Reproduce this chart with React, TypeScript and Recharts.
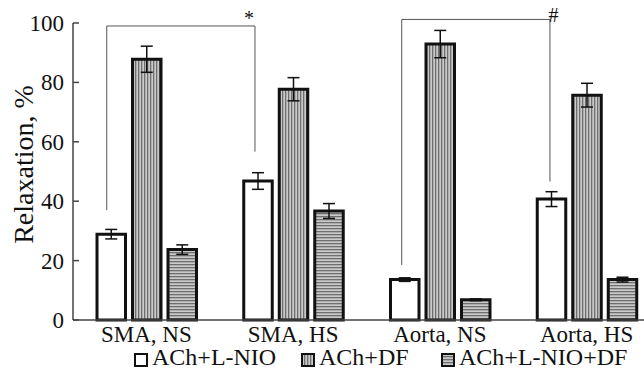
import {
  BarChart,
  Bar,
  XAxis,
  YAxis,
  ErrorBar,
  ReferenceLine,
  ReferenceDot,
  Legend,
  Label,
} from 'recharts';

const categories = ['SMA, NS', 'SMA, HS', 'Aorta, NS', 'Aorta, HS'];
const seriesNames = ['ACh+L-NIO', 'ACh+DF', 'ACh+L-NIO+DF'];

const achLnio = [28.9, 46.8, 13.6, 40.7];
const achLnioErr = [1.6, 2.8, 0.6, 2.5];
const achDf = [87.8, 77.7, 92.9, 75.7];
const achDfErr = [4.4, 3.9, 4.6, 4.0];
const achLnioDf = [23.7, 36.7, 6.8, 13.6];
const achLnioDfErr = [1.6, 2.5, 0.3, 0.8];

const yTicks = [0, 20, 40, 60, 80, 100];

// significance brackets; x is in group units (0..4) on a hidden numeric axis
const bracketX1 = [0.23, 2.24];
const bracketX2 = [1.24, 3.25];
const bracketTop = [99, 101.2];
const bracketLeftEnd = [37, 18.5];
const bracketRightEnd = [56.7, 46.6];
const bracketMark = ['*', '#'];
const markX = [1.2, 3.275];
const markY = [101.6, 102.6];

const data = categories.map((name, i) => ({
  name,
  pos: i + 0.5,
  lnio: achLnio[i],
  lnioErr: achLnioErr[i],
  df: achDf[i],
  dfErr: achDfErr[i],
  lnioDf: achLnioDf[i],
  lnioDfErr: achLnioDfErr[i],
}));

const FONT = '"Liberation Serif", "Times New Roman", serif';
const INK = '#111';
const fills = ['#ffffff', 'url(#vstripe)', 'url(#hstripe)'];
const legendLeft = [134, 301, 441];

const YTick = (props: any) => {
  const { x, y, payload } = props;
  const ax = x + 9;
  return (
    <g>
      <line x1={ax} y1={y} x2={ax + 6} y2={y} stroke="#444" strokeWidth={1.5} />
      <text x={x} y={y} dy="0.35em" textAnchor="end" fontFamily={FONT} fontSize={23} fill={INK}>
        {payload.value}
      </text>
    </g>
  );
};

const YLabel = (props: any) => {
  const { viewBox } = props;
  const cx = viewBox.x + 23;
  const cy = viewBox.y + viewBox.height / 2 - 7;
  return (
    <text
      x={cx}
      y={cy}
      transform={`rotate(-90 ${cx} ${cy})`}
      textAnchor="middle"
      dominantBaseline="central"
      fontFamily={FONT}
      fontSize={28}
      fill={INK}
    >
      Relaxation, %
    </text>
  );
};

const renderLegend = () => (
  <div
    style={{
      position: 'relative',
      height: 22,
      fontFamily: FONT,
      fontSize: 24,
      lineHeight: '20px',
      color: INK,
    }}
  >
    {seriesNames.map((s, i) => (
      <div
        key={s}
        style={{ position: 'absolute', left: legendLeft[i], top: 0, height: 20, display: 'flex', alignItems: 'center', whiteSpace: 'nowrap' }}
      >
        <svg width={14} height={14} style={{ position: 'relative', top: 3 }}>
          <rect x={1} y={1} width={12} height={12} fill={fills[i]} stroke={INK} strokeWidth={2} />
        </svg>
        <span style={{ marginLeft: 4 }}>{s}</span>
      </div>
    ))}
  </div>
);

export default function App() {
  return (
    <div style={{ position: 'absolute', left: 0, top: 0, width: 644, height: 369, overflow: 'hidden', background: '#fff' }}>
      <BarChart
        width={660}
        height={369}
        data={data}
        margin={{ top: 23, right: 0, bottom: 0, left: 0 }}
        barSize={28.5}
        barGap={7}
      >
        <defs>
          <pattern id="vstripe" width={3} height={3} patternUnits="userSpaceOnUse">
            <rect width={3} height={3} fill="#cacaca" />
            <rect x={0} width={1.3} height={3} fill="#6e6e6e" />
          </pattern>
          <pattern id="hstripe" width={3} height={3} patternUnits="userSpaceOnUse">
            <rect width={3} height={3} fill="#cacaca" />
            <rect y={0} width={3} height={1.3} fill="#6e6e6e" />
          </pattern>
        </defs>
        <XAxis
          dataKey="name"
          height={27}
          axisLine={{ stroke: '#444', strokeWidth: 1.5 }}
          tickLine={false}
          tickSize={0}
          tickMargin={6}
          tick={{ fontFamily: FONT, fontSize: 23, fill: INK }}
          interval={0}
        />
        <XAxis xAxisId="ann" dataKey="pos" type="number" domain={[0, 4]} allowDataOverflow hide />
        <YAxis
          width={73}
          domain={[0, 100]}
          ticks={yTicks}
          interval={0}
          tickSize={0}
          tickMargin={9}
          tickLine={false}
          axisLine={{ stroke: '#444', strokeWidth: 1.5 }}
          tick={<YTick />}
        >
          <Label content={<YLabel />} />
        </YAxis>
        <Legend verticalAlign="bottom" align="left" content={renderLegend} wrapperStyle={{ left: 0, width: 644 }} />
        {['lnio', 'df', 'lnioDf'].map((key, i) => (
          <Bar
            key={key}
            dataKey={key}
            name={seriesNames[i]}
            fill={fills[i]}
            stroke={INK}
            strokeWidth={3}
            isAnimationActive={false}
          >
            <ErrorBar dataKey={`${key}Err`} width={6} stroke={INK} strokeWidth={1.5} direction="y" isAnimationActive={false} />
          </Bar>
        ))}
        {bracketX1.map((x1, i) => [
          <ReferenceLine
            key={`h${i}`}
            xAxisId="ann"
            ifOverflow="visible"
            stroke="#555"
            strokeWidth={1}
            segment={[{ x: x1, y: bracketTop[i] }, { x: bracketX2[i], y: bracketTop[i] }]}
          />,
          <ReferenceLine
            key={`l${i}`}
            xAxisId="ann"
            ifOverflow="visible"
            stroke="#555"
            strokeWidth={1}
            segment={[{ x: x1, y: bracketTop[i] }, { x: x1, y: bracketLeftEnd[i] }]}
          />,
          <ReferenceLine
            key={`r${i}`}
            xAxisId="ann"
            ifOverflow="visible"
            stroke="#555"
            strokeWidth={1}
            segment={[{ x: bracketX2[i], y: bracketTop[i] }, { x: bracketX2[i], y: bracketRightEnd[i] }]}
          />,
          <ReferenceDot
            key={`m${i}`}
            xAxisId="ann"
            x={markX[i]}
            y={markY[i]}
            r={0}
            fill="none"
            stroke="none"
            ifOverflow="visible"
            label={{ value: bracketMark[i], position: 'center', fontFamily: FONT, fontSize: 20, fill: INK }}
          />,
        ])}
      </BarChart>
    </div>
  );
}
